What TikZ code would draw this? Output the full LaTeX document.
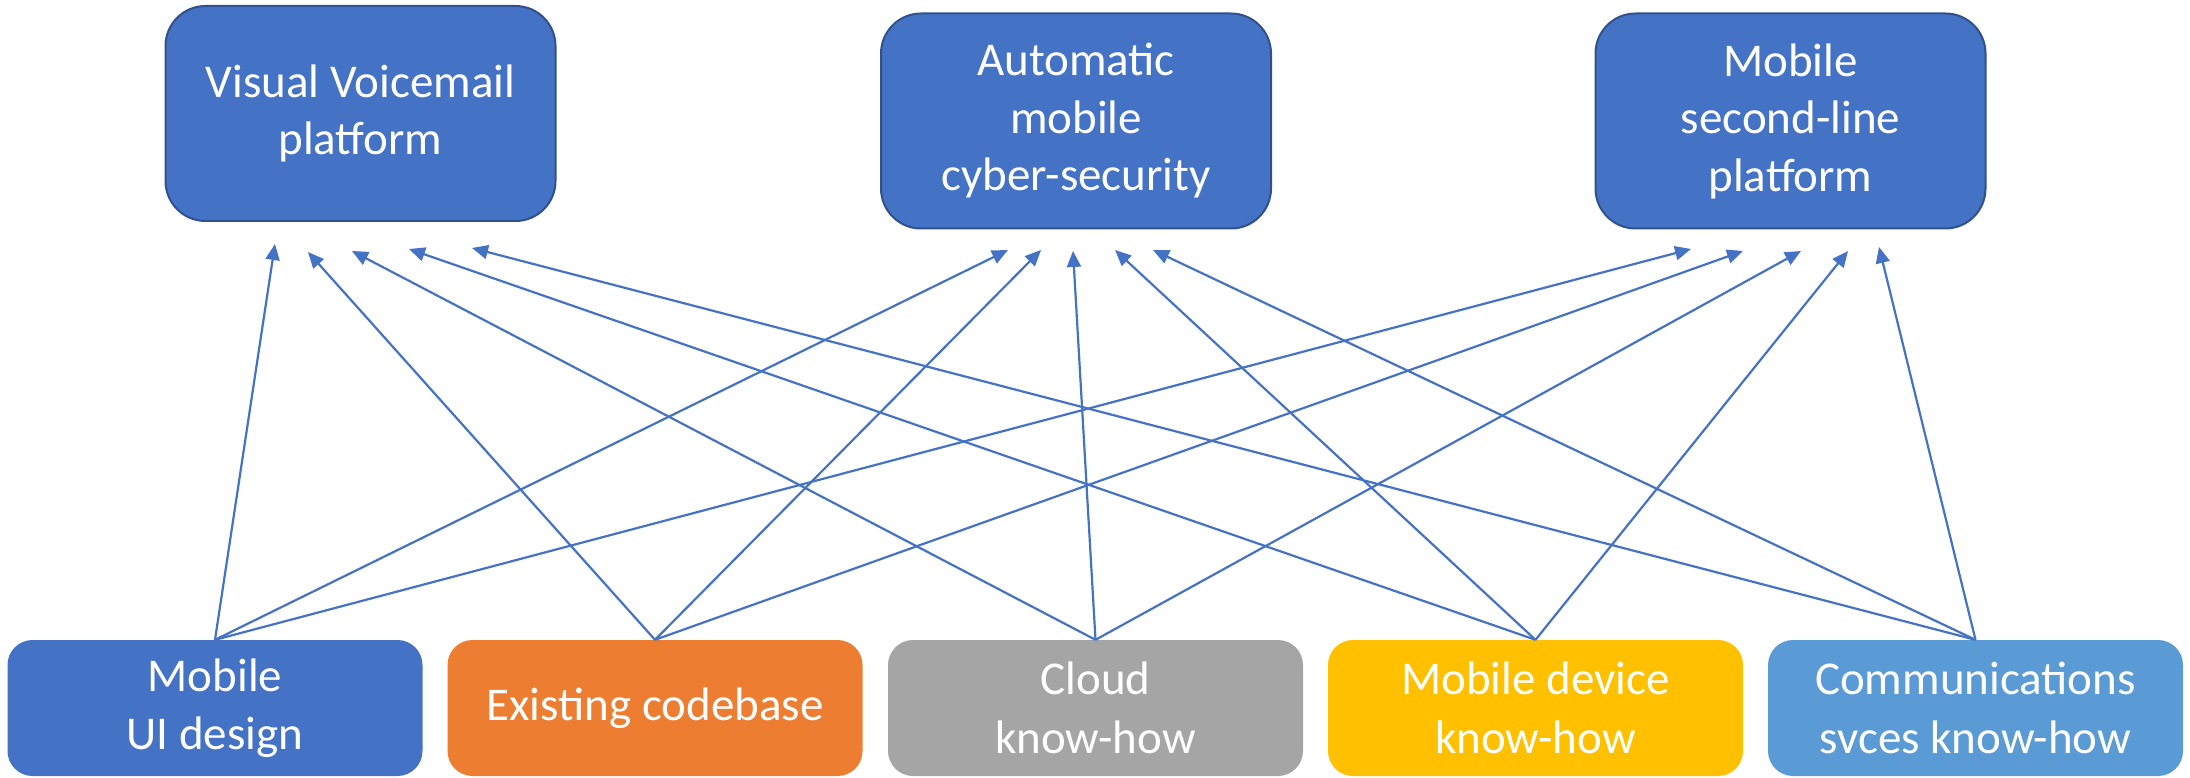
\documentclass[tikz,border=0pt]{standalone}
\usepackage{fontspec}
\setmainfont{Carlito}
\usetikzlibrary{arrows.meta}
\definecolor{accblue}{HTML}{4472C4}
\definecolor{accdark}{HTML}{2F528F}
\definecolor{accorange}{HTML}{ED7D31}
\definecolor{accgrey}{HTML}{A5A5A5}
\definecolor{accgold}{HTML}{FFC000}
\definecolor{acclight}{HTML}{5B9BD5}
\tikzset{
  topbox/.style={draw=accdark, line width=2pt, fill=accblue, rounded corners=40pt,
    text=white, align=center, inner sep=0pt, minimum width=390pt, minimum height=215pt,
    font=\fontsize{47}{57.5}\selectfont},
  botbox/.style={fill=#1, rounded corners=25pt, text=white, align=center, inner sep=0pt,
    minimum width=415pt, minimum height=136pt, font=\fontsize{47}{58.5}\selectfont},
  link/.style={draw=accblue, line width=2.2pt, -{Triangle[length=16pt, width=14pt]}}
}
\begin{document}
\begin{tikzpicture}[x=1pt, y=-1pt]
\useasboundingbox (0,0) rectangle (2190,778);
\node[topbox] (t1) at (360.5,113.5) {Visual Voicemail\\platform};
\node[topbox] (t2) at (1076,121) {Automatic\\mobile\\cyber-security};
\node[topbox] (t3) at (1790.5,121) {Mobile\\second-line\\platform};
\node[botbox=accblue] (b1) at (215,708) {Mobile\\UI design};
\node[botbox=accorange] (b2) at (655,708) {Existing codebase};
\node[botbox=accgrey] (b3) at (1095.5,708) {Cloud\\know-how};
\node[botbox=accgold] (b4) at (1535.5,708) {Mobile device\\know-how};
\node[botbox=acclight] (b5) at (1975.5,708) {Communications\\svces know-how};
% arrow tip points below the top boxes
\coordinate (t1p1) at (275,244);
\coordinate (t1p2) at (308,252);
\coordinate (t1p3) at (352,251);
\coordinate (t1p4) at (409,249);
\coordinate (t1p5) at (472,248);
\coordinate (t2p1) at (1008,250);
\coordinate (t2p2) at (1041,250);
\coordinate (t2p3) at (1073,251);
\coordinate (t2p4) at (1115,250);
\coordinate (t2p5) at (1153,250);
\coordinate (t3p1) at (1691,249);
\coordinate (t3p2) at (1743,251);
\coordinate (t3p3) at (1801,251);
\coordinate (t3p4) at (1848,251);
\coordinate (t3p5) at (1879,247);
\foreach \t in {1,2,3}{
  \foreach \b in {1,...,5}{
    \draw[link] (b\b.north) -- (t\t p\b);
  }
}
\end{tikzpicture}
\end{document}
